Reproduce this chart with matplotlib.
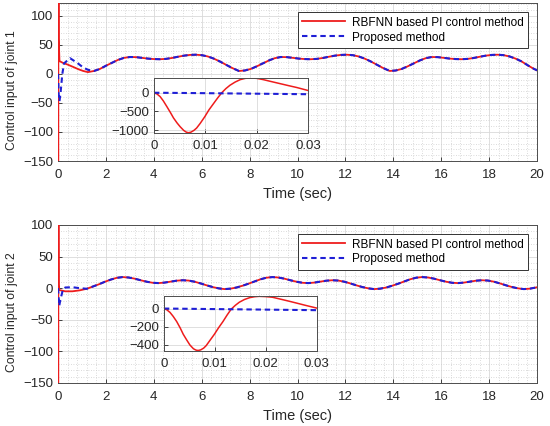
import matplotlib
matplotlib.use("Agg")
import matplotlib.pyplot as plt
from matplotlib.ticker import AutoMinorLocator, MultipleLocator

plt.rcParams['font.family'] = ['Liberation Sans', 'DejaVu Sans']
plt.rcParams['font.size'] = 9.5

# ---- first 0.03 s (inset window), both joints ----
t_zoom = [0, 0.0006, 0.0012, 0.0018, 0.0025, 0.0032, 0.0038, 0.0045, 0.0051, 0.0058,
          0.0063, 0.0067, 0.0072, 0.0078, 0.0083, 0.009, 0.0099, 0.0107, 0.0116, 0.0124,
          0.0132, 0.014, 0.0148, 0.0158, 0.0168, 0.0178, 0.0187, 0.02, 0.0213, 0.0228,
          0.0245, 0.0262, 0.0278, 0.03]
u1_rbf_zoom = [0, -35, -105, -215, -370, -530, -675, -810, -910, -1010,
               -1055, -1070, -1055, -1005, -945, -820, -640, -460, -290, -140,
               0, 110, 200, 285, 350, 385, 395, 385, 350, 300,
               245, 190, 140, 60]
u2_rbf_zoom = [0, -15, -43, -85, -143, -215, -285, -350, -403, -445,
               -460, -464, -458, -438, -410, -355, -285, -215, -143, -72,
               -7, 35, 70, 100, 120, 131, 135, 132, 125, 105,
               82, 58, 35, 5]
t_zoom_prop = [0, 0.01, 0.02, 0.03]
u1_prop_zoom = [0, -12, -26, -40]
u2_prop_zoom = [0, -6, -12, -18]

# ---- joint 1 : transient after the spike ----
t1_early_rbf = [0.06, 0.2, 0.4, 0.63, 0.85, 1.05, 1.25]
u1_rbf_early = [22, 19, 16, 12, 8, 5, 3]
t1_early_prop = [0.06, 0.1, 0.18, 0.25, 0.5, 0.8, 1.05, 1.25]
u1_prop_early = [-47, -35, 0, 18, 27, 19, 11, 7]

# ---- joint 1 : steady part (both methods agree) ----
t1_tail = [1.5, 1.75, 2.0, 2.25, 2.5, 2.75, 3.0, 3.25, 3.5, 3.75, 4.0, 4.25, 4.5,
           4.75, 5.0, 5.25, 5.5, 5.75, 6.0, 6.25, 6.5, 6.75, 7.0, 7.25, 7.55,
           7.8, 8.05, 8.3, 8.55, 8.8, 9.05, 9.3, 9.55, 9.8, 10.05, 10.3, 10.55, 10.8,
           11.05, 11.3, 11.55, 11.8, 12.05, 12.3, 12.55, 12.8, 13.05, 13.3, 13.55, 13.85,
           14.1, 14.35, 14.6, 14.85, 15.1, 15.35, 15.6, 15.85, 16.1, 16.35, 16.6, 16.85,
           17.1, 17.35, 17.6, 17.85, 18.1, 18.35, 18.6, 18.85, 19.1, 19.35, 19.6, 19.85, 20.0]
u1_tail = [5, 8.5, 14, 19, 24, 27.5, 29, 28.8, 27.6, 26.3, 25.5, 25.2, 25.8,
           27.3, 29.4, 31.3, 32.6, 33, 32.2, 30, 26.3, 21.5, 16, 10.5, 5,
           5.8, 8.5, 13, 18, 23, 27, 29, 28.8, 27.6, 26.3, 25.5, 25.2, 25.8,
           27.3, 29.4, 31.3, 32.6, 33, 32.2, 30, 26.3, 21.5, 16, 10.5, 5,
           5.8, 8.5, 13, 18, 23, 27, 29, 28.8, 27.6, 26.3, 25.5, 25.2,
           25.8, 27.3, 29.4, 31.3, 32.6, 33, 32.2, 30, 26.3, 21.5, 15, 9, 6]

# ---- joint 2 : transient ----
t2_early_rbf = [0.05, 0.3, 0.6, 0.9]
u2_rbf_early = [-3, -5, -5, -3.5]
t2_early_prop = [0.05, 0.1, 0.2, 0.3, 0.6, 0.9]
u2_prop_early = [-28, -18, -3, 1, 1.5, 0]

# ---- joint 2 : steady part ----
t2_tail = [1.2, 1.45, 1.7, 1.95, 2.2, 2.45, 2.7, 2.95, 3.2, 3.45, 3.7, 3.95, 4.2,
           4.45, 4.7, 4.95, 5.2, 5.45, 5.7, 5.95, 6.2, 6.45, 6.7, 6.95,
           7.2, 7.45, 7.7, 7.95, 8.2, 8.45, 8.7, 8.95, 9.2, 9.45, 9.7, 9.95, 10.2,
           10.45, 10.7, 10.95, 11.2, 11.45, 11.7, 11.95, 12.2, 12.45, 12.7, 12.95, 13.2,
           13.45, 13.7, 13.95, 14.2, 14.45, 14.7, 14.95, 15.2, 15.45, 15.7, 15.95, 16.2,
           16.45, 16.7, 16.95, 17.2, 17.45, 17.7, 17.95, 18.2, 18.45, 18.7, 18.95, 19.2,
           19.45, 19.7, 19.95, 20.0]
u2_tail = [-1, 2.5, 6, 10, 13.5, 16.3, 17.5, 16.8, 15, 12.5, 10.2, 8.5, 8,
           8.8, 10.3, 11.8, 12.5, 12, 10.2, 7.5, 4.5, 1.8, -0.3, -1.5,
           -0.8, 1, 3.8, 7, 10.5, 14, 16.5, 17.5, 16.8, 15, 12.5, 10.2, 8.5,
           8, 8.8, 10.3, 11.8, 12.5, 12, 10.2, 7.5, 4.5, 1.8, -0.3, -1.5,
           -0.8, 1, 3.8, 7, 10.5, 14, 16.5, 17.5, 16.8, 15, 12.5, 10.2,
           8.5, 8, 8.8, 10.3, 11.8, 12.5, 12, 10.2, 7.5, 4.5, 1.8, -0.3,
           -1.5, -0.8, 1, 1.5]

RED = '#ee1c1c'
BLUE = '#1f1fd6'
EDGE = '#4d4d4d'
DASH = (0, (2.6, 1.8))


def style_axes(ax, minor=True, xpad=6):
    for s in ax.spines.values():
        s.set_color(EDGE)
        s.set_linewidth(0.7)
    ax.tick_params(direction='in', length=3, width=0.6, colors='#262626')
    ax.tick_params(axis='x', pad=xpad)
    ax.tick_params(axis='y', pad=3.5)
    ax.grid(True, which='major', color='#d9d9d9', lw=0.6, ls='-')
    if minor:
        ax.xaxis.set_minor_locator(AutoMinorLocator(5))
        ax.yaxis.set_minor_locator(AutoMinorLocator(5))
        ax.tick_params(which='minor', length=0)
        ax.grid(True, which='minor', color='#cfcfcf', lw=0.6, ls=(0, (1, 2)))
    ax.set_axisbelow(True)


fig = plt.figure(figsize=(5.5, 4.26), dpi=100)

panels = [
    (1, [0.1055, 0.622, 0.871, 0.371], (-150, 122),
     [0.28, 0.688, 0.28, 0.129], (-1075, 395), [0, -500, -1000],
     u1_rbf_zoom, u1_prop_zoom, t1_early_rbf, u1_rbf_early,
     t1_early_prop, u1_prop_early, t1_tail, u1_tail),
    (2, [0.1055, 0.101, 0.871, 0.371], (-150, 100),
     [0.298, 0.176, 0.278, 0.129], (-470, 138), [0, -200, -400],
     u2_rbf_zoom, u2_prop_zoom, t2_early_rbf, u2_rbf_early,
     t2_early_prop, u2_prop_early, t2_tail, u2_tail),
]

for (j, pos, ylim, ipos, iylim, iyticks, rz, pz, tre, re, tpe, pe, tt, ut) in panels:
    ax = fig.add_axes(pos)
    style_axes(ax)
    ax.plot(t_zoom + tre + tt, rz + re + ut, color=RED, lw=1.3, zorder=3,
            label='RBFNN based PI control method')
    ax.plot(t_zoom_prop + tpe + tt, pz + pe + ut, color=BLUE, lw=1.5, ls=DASH,
            zorder=4, label='Proposed method')
    ax.set_xlim(0, 20)
    ax.set_ylim(*ylim)
    ax.xaxis.set_major_locator(MultipleLocator(2))
    ax.yaxis.set_major_locator(MultipleLocator(50))
    ax.set_xlabel('Time (sec)', fontsize=10.5, color='#262626', labelpad=4)
    ax.set_ylabel('Control input of joint %d' % j, fontsize=8.8, color='#262626')
    ax.yaxis.set_label_coords(-0.084, 0.45)
    leg = ax.legend(loc='upper right', fontsize=8.5, handlelength=3.6,
                    borderaxespad=0.8, fancybox=False, framealpha=1,
                    edgecolor='#333333', handletextpad=0.6, borderpad=0.35,
                    labelspacing=0.25)
    leg.get_frame().set_linewidth(0.7)
    leg.set_zorder(6)

    ins = fig.add_axes(ipos)
    style_axes(ins, minor=False, xpad=5)
    ins.plot(t_zoom, rz, color=RED, lw=1.1)
    ins.plot(t_zoom_prop, pz, color=BLUE, lw=1.5, ls=DASH)
    ins.set_xlim(0, 0.03)
    ins.set_ylim(*iylim)
    ins.set_xticks([0, 0.01, 0.02, 0.03])
    ins.set_xticklabels(['0', '0.01', '0.02', '0.03'])
    ins.set_yticks(iyticks)

fig.savefig('out.png', dpi=100)
